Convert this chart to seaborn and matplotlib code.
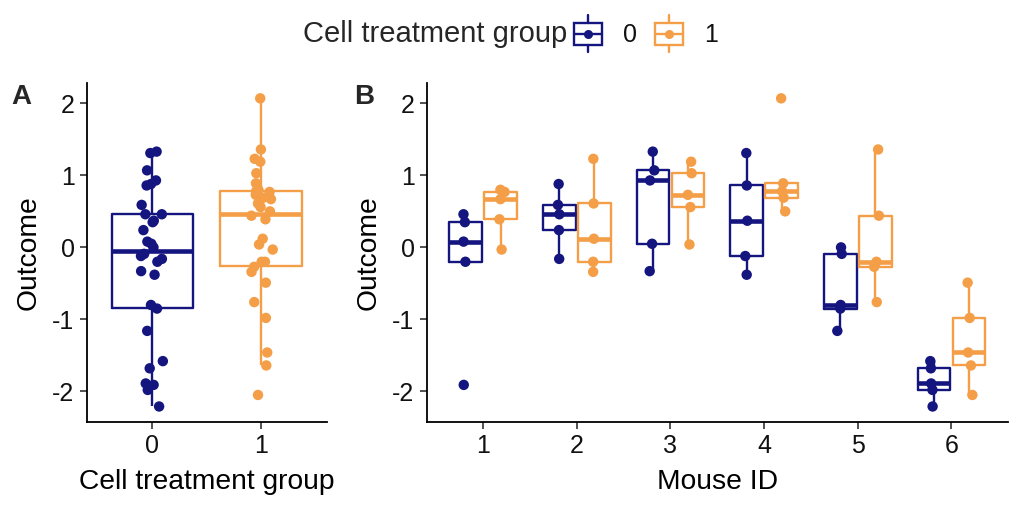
import numpy as np
import pandas as pd
import matplotlib
matplotlib.use("Agg")
import matplotlib.pyplot as plt
import seaborn as sns
from matplotlib.legend_handler import HandlerBase
from matplotlib.patches import Rectangle
from matplotlib.lines import Line2D

# ---- data ----
mouse_ids = [1, 2, 3, 4, 5, 6]
group_labels = ["0", "1"]
outcome_g0 = [
    [-1.91, -0.20, 0.08, 0.35, 0.46],
    [-0.16, 0.24, 0.46, 0.59, 0.88],
    [-0.33, 0.05, 0.93, 1.07, 1.33],
    [-0.38, -0.12, 0.37, 0.86, 1.31],
    [-1.16, -0.85, -0.80, -0.09, 0.00],
    [-2.21, -1.98, -1.89, -1.68, -1.58],
]
outcome_g1 = [
    [-0.03, 0.39, 0.67, 0.77, 0.80],
    [-0.34, -0.20, 0.12, 0.61, 1.23],
    [0.04, 0.56, 0.73, 1.03, 1.19],
    [0.50, 0.69, 0.78, 0.89, 2.07],
    [-0.76, -0.27, -0.20, 0.44, 1.36],
    [-2.05, -1.64, -1.46, -0.98, -0.49],
]
colors = ["#15157F", "#F49E48"]

rows = []
for g, series in zip(group_labels, [outcome_g0, outcome_g1]):
    for m, vals in zip(mouse_ids, series):
        for v in vals:
            rows.append({"mouse": str(m), "group": g, "outcome": v})
df = pd.DataFrame(rows)
mouse_order = [str(m) for m in mouse_ids]

sns.set_theme(style="white")
plt.rcParams["font.family"] = ["Liberation Sans", "DejaVu Sans"]

fig = plt.figure(figsize=(10.24, 5.12), dpi=100)
axA = fig.add_axes([0.085, 0.176, 0.234, 0.662])
axB = fig.add_axes([0.417, 0.176, 0.567, 0.662])

pal = dict(zip(group_labels, colors))
box_kw = dict(fill=False, linewidth=1.7, showfliers=False, showcaps=False,
              medianprops={"linewidth": 3.3}, whis=1.5, legend=False)

np.random.seed(3)
sns.boxplot(data=df, x="group", y="outcome", hue="group", order=group_labels,
            hue_order=group_labels, palette=pal, width=0.75, ax=axA, **box_kw)
sns.stripplot(data=df, x="group", y="outcome", hue="group", order=group_labels,
              hue_order=group_labels, palette=pal, jitter=0.11, size=7.5,
              linewidth=0, ax=axA, legend=False, zorder=4)

sns.boxplot(data=df, x="mouse", y="outcome", hue="group", order=mouse_order,
            hue_order=group_labels, palette=pal, width=0.75, gap=0.07,
            ax=axB, **box_kw)
sns.stripplot(data=df, x="mouse", y="outcome", hue="group", order=mouse_order,
              hue_order=group_labels, palette=pal, dodge=True, jitter=0.06,
              size=7.5, linewidth=0, ax=axB, legend=False, zorder=4)

ymin, ymax = -2.424, 2.284
for ax, xlabel, n in [(axA, "Cell treatment group", 2), (axB, "Mouse ID", 6)]:
    ax.set_xlim(-0.6, n - 0.4)
    ax.set_ylim(ymin, ymax)
    ax.set_yticks([-2, -1, 0, 1, 2])
    ax.set_yticklabels(["-2", "-1", "0", "1", "2"])
    ax.set_xlabel(xlabel, fontsize=20.3, color="black", labelpad=8)
    ax.set_ylabel("Outcome", fontsize=20.3, color="black", labelpad=8)
    for s in ["top", "right"]:
        ax.spines[s].set_visible(False)
    for s in ["left", "bottom"]:
        ax.spines[s].set_color("black")
        ax.spines[s].set_linewidth(1.3)
    ax.tick_params(axis="both", which="major", length=5, width=1.2,
                   color="#333333", labelsize=18, labelcolor="#111111",
                   left=True, bottom=True, pad=4)
    ax.grid(False)

fig.text(0.011, 0.81, "A", fontsize=20, fontweight="bold", va="center", ha="left")
fig.text(0.346, 0.81, "B", fontsize=20, fontweight="bold", va="center", ha="left")


class BoxKeyHandler(HandlerBase):
    def __init__(self, color):
        super().__init__()
        self.color = color

    def create_artists(self, legend, orig_handle, xdescent, ydescent, width,
                       height, fontsize, trans):
        c = self.color
        cx = width / 2 - xdescent
        cy = height / 2 - ydescent
        bw, bh = width, height * 0.6
        rect = Rectangle((cx - bw / 2, cy - bh / 2), bw, bh, facecolor="white",
                         edgecolor=c, linewidth=1.7, transform=trans)
        mline = Line2D([cx - bw / 2, cx + bw / 2], [cy, cy], color=c,
                       linewidth=1.7, transform=trans)
        vline1 = Line2D([cx, cx], [cy + bh / 2, cy + height / 2], color=c,
                        linewidth=1.7, transform=trans)
        vline2 = Line2D([cx, cx], [cy - bh / 2, cy - height / 2], color=c,
                        linewidth=1.7, transform=trans)
        dot = Line2D([cx], [cy], marker="o", markersize=6.5, color=c,
                     markeredgewidth=0, linestyle="none", transform=trans)
        return [rect, mline, vline1, vline2, dot]


h0 = Rectangle((0, 0), 1, 1)
h1 = Rectangle((0, 0), 1, 1)
fig.text(0.5537, 0.934, "Cell treatment group", fontsize=21, ha="right",
         va="center")
leg = fig.legend([h0, h1], group_labels, loc="center left",
                 bbox_to_anchor=(0.5605, 0.934), ncol=2, frameon=False,
                 fontsize=18, handlelength=1.12, handleheight=1.9,
                 handletextpad=0.84, columnspacing=0.72,
                 borderpad=0, borderaxespad=0,
                 handler_map={h0: BoxKeyHandler(colors[0]),
                              h1: BoxKeyHandler(colors[1])})
for t in leg.get_texts():
    t.set_color("#111111")

fig.savefig("out.png", dpi=100)
